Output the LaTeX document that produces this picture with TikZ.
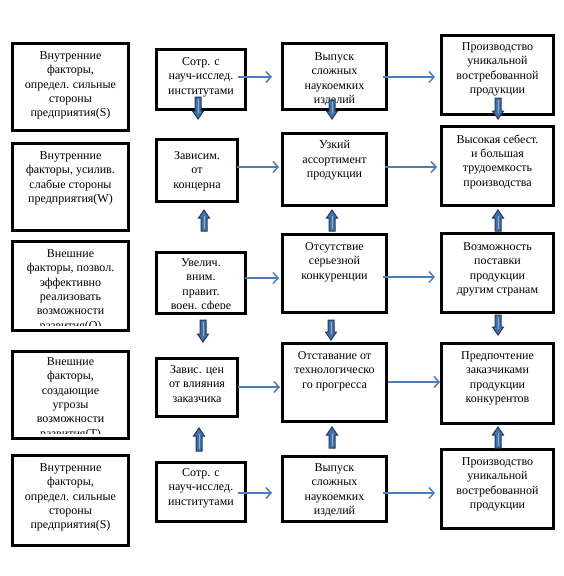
\documentclass[tikz,border=0pt]{standalone}
\usepackage{fontspec}
\setmainfont{Liberation Serif}
\usetikzlibrary{arrows.meta}
\definecolor{hblue}{HTML}{4A7EBB}
\definecolor{bfill}{HTML}{4472A8}
\definecolor{bdark}{HTML}{1F3864}
\definecolor{blight}{HTML}{8FB0D8}
\tikzset{
 box/.style={draw=black, line width=3pt, inner sep=0pt},
 txt/.style={align=center, inner sep=0pt, font=\fontsize{12}{14.3}\selectfont},
 harrow/.style={draw=hblue, line width=1.5pt, -{Straight Barb[length=5pt,width=11pt]}},
 blk/.style={fill=bfill, draw=bdark, line width=1pt, line join=miter},
 blkhi/.style={draw=blight, line width=0.6pt}
}
% name, x1, y1, x2, y2, clip-y, first-line offset, text
\newcommand\mybox[8]{%
 \pgfmathsetmacro\cx{(#2+#4)/2}%
 \pgfmathsetmacro\cy{(#3+#5)/2}%
 \pgfmathsetmacro\bw{#4-#2-3}%
 \pgfmathsetmacro\bh{#5-#3-3}%
 \pgfmathsetmacro\toff{#7-4.5}%
 \node[box, minimum width=\bw pt, minimum height=\bh pt] (#1) at (\cx,\cy) {};
 \begin{scope}
 \clip (#2,#3) rectangle (#4,#6);
 \node[txt, anchor=north] (#1t) at ([yshift=-\toff pt]#1.north) {#8};
 \end{scope}
}
% block arrows: x, top y, bottom y
\newcommand\bdown[3]{%
 \filldraw[blk] ({#1-3},#2) -- ({#1+3},#2) -- ({#1+3},{#3-8}) -- ({#1+5.5},{#3-8}) -- (#1,#3) -- ({#1-5.5},{#3-8}) -- ({#1-3},{#3-8}) -- cycle;
 \draw[blkhi] (#1,{#2+2}) -- (#1,{#3-6});
}
\newcommand\bup[3]{%
 \filldraw[blk] ({#1-3},#3) -- ({#1+3},#3) -- ({#1+3},{#2+8}) -- ({#1+5.5},{#2+8}) -- (#1,#2) -- ({#1-5.5},{#2+8}) -- ({#1-3},{#2+8}) -- cycle;
 \draw[blkhi] (#1,{#3-2}) -- (#1,{#2+6});
}
\begin{document}
\begin{tikzpicture}[x=1pt,y=-1pt]
\useasboundingbox (0,0) rectangle (564,576);
\fill[white] (0,0) rectangle (564,576);

% column 1
\mybox{c1r1}{11}{42}{130}{132}{132}{14}{Внутренние\\факторы,\\определ. сильные\\стороны\\предприятия(S)}
\mybox{c1r2}{11}{142}{130}{232}{232}{14}{Внутренние\\факторы, усилив.\\слабые стороны\\предприятия(W)}
\mybox{c1r3}{11}{240}{130}{332}{325}{14}{Внешние\\факторы, позвол.\\эффективно\\реализовать\\возможности\\развития(O)}
\mybox{c1r4}{11}{350}{130}{440}{433}{12}{Внешние\\факторы,\\создающие\\угрозы\\возможности\\развития(T)}
\mybox{c1r5}{11}{454}{130}{547}{547}{14}{Внутренние\\факторы,\\определ. сильные\\стороны\\предприятия(S)}

% column 2
\mybox{c2r1}{155}{48}{247}{111}{111}{14}{Сотр. с\\науч-исслед.\\институтами}
\mybox{c2r2}{155}{138}{239}{203}{203}{18}{Зависим.\\от\\концерна}
\mybox{c2r3}{155}{251}{247}{315}{308}{12}{Увелич.\\вним.\\правит.\\воен. сфере}
\mybox{c2r4}{155}{357}{239}{418}{418}{13}{Завис. цен\\от влияния\\заказчика}
\mybox{c2r5}{155}{461}{247}{523}{523}{12}{Сотр. с\\науч-исслед.\\институтами}

% column 3
\mybox{c3r1}{281}{42}{388}{111}{111}{15}{Выпуск\\сложных\\наукоемких\\изделий}
\mybox{c3r2}{281}{132}{388}{207}{207}{13}{Узкий\\ассортимент\\продукции}
\mybox{c3r3}{281}{233}{388}{314}{314}{14}{Отсутствие\\серьезной\\конкуренции}
\mybox{c3r4}{281}{342}{388}{423}{423}{14}{Отставание от\\технологическо\\го прогресса}
\mybox{c3r5}{281}{455}{388}{523}{523}{13}{Выпуск\\сложных\\наукоемких\\изделий}

% column 4
\mybox{c4r1}{440}{34}{555}{116}{116}{13}{Производство\\уникальной\\востребованной\\продукции}
\mybox{c4r2}{440}{125}{555}{207}{207}{14}{Высокая себест.\\и большая\\трудоемкость\\производства}
\mybox{c4r3}{440}{232}{555}{314}{314}{15}{Возможность\\поставки\\продукции\\другим странам}
\mybox{c4r4}{440}{342}{555}{425}{425}{14}{Предпочтение\\заказчиками\\продукции\\конкурентов}
\mybox{c4r5}{440}{448}{555}{530}{530}{14}{Производство\\уникальной\\востребованной\\продукции}

% horizontal arrows
\draw[harrow] ([shift={(-9,-2.5)}]c2r1.east) -- ([shift={(-9,-2.5)}]c2r1.east -| c3r1.west);
\draw[harrow] ([shift={(-5,0.5)}]c3r1.east) -- ([shift={(-5,0.5)}]c3r1.east -| c4r1.west);
\draw[harrow] ([shift={(-2,-3.5)}]c2r2.east) -- ([shift={(-2,-3.5)}]c2r2.east -| c3r2.west);
\draw[harrow] ([shift={(-3,-2.5)}]c3r2.east) -- ([shift={(-3,-2.5)}]c3r2.east -| c4r2.west);
\draw[harrow] ([shift={(-2,-5)}]c2r3.east) -- ([shift={(-2,-5)}]c2r3.east -| c3r3.west);
\draw[harrow] ([shift={(-5,3.5)}]c3r3.east) -- ([shift={(-5,3.5)}]c3r3.east -| c4r3.west);
\draw[harrow] ([shift={(-1,-0.5)}]c2r4.east) -- ([shift={(-1,-0.5)}]c2r4.east -| c3r4.west);
\draw[harrow] ([shift={(0,-0.5)}]c3r4.east) -- ([shift={(0,-0.5)}]c3r4.east -| c4r4.west);
\draw[harrow] ([shift={(-9,1)}]c2r5.east) -- ([shift={(-9,1)}]c2r5.east -| c3r5.west);
\draw[harrow] ([shift={(-5,4)}]c3r5.east) -- ([shift={(-5,4)}]c3r5.east -| c4r5.west);

% block arrows column 2
\bdown{198}{97}{119}
\bup{204}{210}{231}
\bdown{203}{320}{342}
\bup{199}{428}{451}
% column 3
\bdown{332}{100}{119}
\bup{332}{210}{231}
\bdown{331}{320}{340}
\bup{332}{427}{448}
% column 4
\bdown{498}{98}{119}
\bup{498}{210}{231}
\bdown{498}{315}{335}
\bup{498}{427}{448}
\end{tikzpicture}
\end{document}
